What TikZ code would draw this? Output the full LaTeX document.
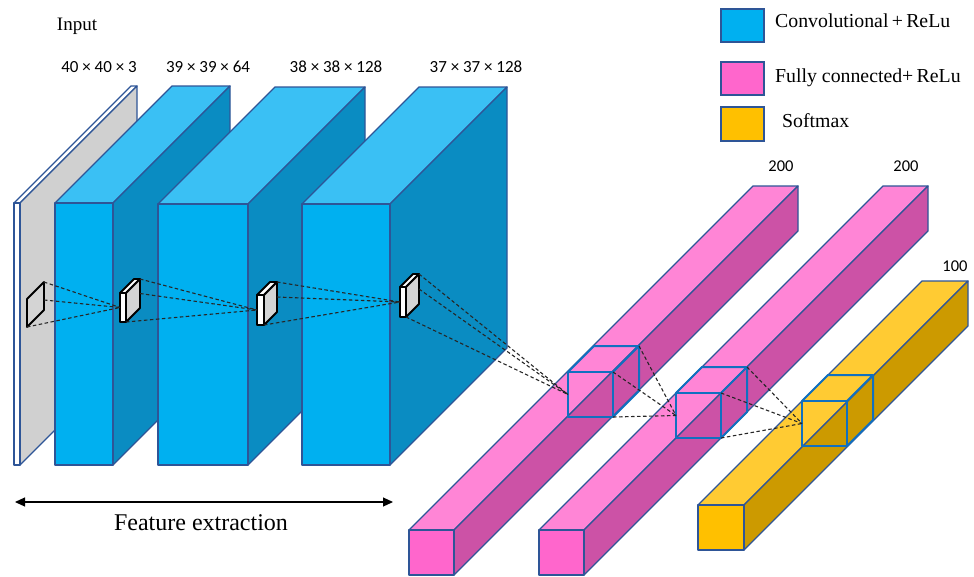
\documentclass[tikz,border=0pt]{standalone}
\usepackage{fontspec}
\setmainfont{Liberation Serif}
\newfontfamily\dimfont{Carlito}
\usetikzlibrary{arrows.meta}

\definecolor{edgeblue}{HTML}{2E5597}
\definecolor{cubeblue}{HTML}{1070C0}
\definecolor{convfront}{HTML}{00B0F0}
\definecolor{convtop}{HTML}{3AC0F4}
\definecolor{convside}{HTML}{0A8CC2}
\definecolor{inputside}{HTML}{D0D0D0}
\definecolor{fcfront}{HTML}{FF66CC}
\definecolor{fctop}{HTML}{FF85D6}
\definecolor{fcside}{HTML}{CC52A6}
\definecolor{smfront}{HTML}{FFC000}
\definecolor{smtop}{HTML}{FFCB33}
\definecolor{smside}{HTML}{CC9A00}
\definecolor{kernelside}{HTML}{D4D4D4}

\tikzset{
  blockline/.style={draw=edgeblue, line width=1.3pt, line join=round},
  kernelline/.style={draw=black, line width=1.8pt, line join=round},
  cubeline/.style={draw=cubeblue, line width=2pt, line join=round},
  flow/.style={draw=black!85, line width=1.1pt, dash pattern=on 3.5pt off 2.5pt},
  dimlabel/.style={font=\dimfont\fontsize{17}{17}\selectfont, inner sep=0pt},
  sizelabel/.style={font=\dimfont\fontsize{16.5}{16.5}\selectfont, inner sep=0pt},
  legendtext/.style={font=\fontsize{19.8}{19.8}\selectfont, anchor=west, inner sep=0pt},
  legendbox/.style={draw=edgeblue, line width=1.5pt},
}

% cuboid: x, y (front top-left), width, height, depth, front, top, side, line style
\newcommand{\prism}[9]{%
  \filldraw[#9, fill=#7] (#1,#2) -- ++(#3,0) -- ++(#5,-#5) -- ++(-#3,0) -- cycle;
  \filldraw[#9, fill=#8] (#1+#3,#2) -- ++(0,#4) -- ++(#5,-#5) -- ++(0,-#4) -- cycle;
  \filldraw[#9, fill=#6] (#1,#2) rectangle ++(#3,#4);
}

% small filter box: name, x, y, width, height, depth
\newcommand{\kernelbox}[6]{%
  \prism{#2}{#3}{#4}{#5}{#6}{white}{white}{kernelside}{kernelline}
  \coordinate (#1-in)  at (#2, #3+#5/2);
  \coordinate (#1-btr) at (#2+#4+#6, #3-#6);
  \coordinate (#1-bmr) at (#2+#4+#6, #3-#6+#5/2);
  \coordinate (#1-fbr) at (#2+#4, #3+#5);
}

% open slice drawn inside a bar: name, x, y, size, depth
\newcommand{\slicebox}[5]{%
  \draw[cubeline] (#2,#3) rectangle ++(#4,#4);
  \draw[cubeline] (#2,#3) -- ++(#5,-#5) -- ++(#4,0) -- ++(-#5,#5);
  \draw[cubeline] (#2+#4+#5,#3-#5) -- ++(0,#4) -- ++(-#5,#5);
  \coordinate (#1-in)  at (#2, #3+#4/2);
  \coordinate (#1-btr) at (#2+#4+#5, #3-#5);
  \coordinate (#1-ftr) at (#2+#4, #3);
  \coordinate (#1-fbr) at (#2+#4, #3+#4);
}

\begin{document}
\begin{tikzpicture}[x=1pt, y=-1pt]
\useasboundingbox (0,0) rectangle (974,576);

% ---- feature extraction stack ----
\prism{14}{203}{6}{262}{117}{white}{white}{inputside}{blockline}
\prism{55}{203}{58}{262}{117}{convfront}{convtop}{convside}{blockline}
\prism{158}{204}{90}{261}{117}{convfront}{convtop}{convside}{blockline}
\prism{302}{204}{88}{261}{117}{convfront}{convtop}{convside}{blockline}

% receptive field on the input
\filldraw[kernelline, fill=kernelside] (27,299) -- (44,282) -- (44,310) -- (27,327) -- cycle;
\coordinate (k0-tr) at (44,282);
\coordinate (k0-mr) at (44,300);
\coordinate (k0-bl) at (27,327);

\kernelbox{k1}{120}{293}{6}{29}{14}
\kernelbox{k2}{257}{295}{7}{30}{13}
\kernelbox{k3}{400}{287}{6}{30}{13}

\draw[flow] (k0-tr) -- (k1-in);
\draw[flow] (k0-mr) -- (k1-in);
\draw[flow] (k0-bl) -- (k1-in);
\draw[flow] (k1-btr) -- (k2-in);
\draw[flow] (k1-bmr) -- (k2-in);
\draw[flow] (k1-fbr) -- (k2-in);
\draw[flow] (k2-btr) -- (k3-in);
\draw[flow] (k2-bmr) -- (k3-in);
\draw[flow] (k2-fbr) -- (k3-in);

% ---- dense layers ----
\prism{409}{530}{45}{45}{344}{fcfront}{fctop}{fcside}{blockline}
\prism{539}{530}{45}{45}{344}{fcfront}{fctop}{fcside}{blockline}
\prism{698}{505}{46}{45}{224}{smfront}{smtop}{smside}{blockline}

\slicebox{c1}{568}{372}{45}{26}
\slicebox{c2}{676}{393}{45}{26}
\slicebox{c3}{802}{401}{45}{26}

\draw[flow] (k3-btr) -- (c1-in);
\draw[flow] (k3-bmr) -- (c1-in);
\draw[flow] (k3-fbr) -- (c1-in);
\draw[flow] (c1-btr) -- (c2-in);
\draw[flow] (c1-ftr) -- (c2-in);
\draw[flow] (c1-fbr) -- (c2-in);
\draw[flow] (c2-btr) -- (c3-in);
\draw[flow] (c2-ftr) -- (c3-in);
\draw[flow] (c2-fbr) -- (c3-in);

% ---- labels ----
\node[font=\fontsize{19}{19}\selectfont, inner sep=0pt] (lblinput) at (77,26) {Input};
\node[dimlabel] (dim0) at (99,67) {40 × 40 × 3};
\node[dimlabel] (dim1) at (208,67) {39 × 39 × 64};
\node[dimlabel] (dim2) at (336,67) {38 × 38 × 128};
\node[dimlabel] (dim3) at (476,67) {37 × 37 × 128};
\node[sizelabel] (n1) at (781,166) {200};
\node[sizelabel] (n2) at (906,166) {200};
\node[sizelabel] (n3) at (955,266) {100};

% ---- span of the convolutional part ----
\coordinate (fe-l) at (15,502);
\coordinate (fe-r) at (393,502);
\draw[line width=1.1pt, {Triangle[length=10pt,width=9pt]}-{Triangle[length=10pt,width=9pt]}] (fe-l) -- (fe-r);
\node[font=\fontsize{24}{24}\selectfont, inner sep=0pt] (lblfe) at (201,523) {Feature extraction};

% ---- legend ----
\filldraw[legendbox, fill=convfront] (721,9) rectangle (764,42);
\filldraw[legendbox, fill=fcfront] (721,62) rectangle (764,95);
\filldraw[legendbox, fill=smfront] (721,107) rectangle (764,141);
\node[legendtext] (leg1) at (775,21) {Convolutional\,+\,ReLu};
\node[legendtext] (leg2) at (775,78) {Fully connected+\,ReLu};
\node[legendtext] (leg3) at (782,121) {Softmax};
\end{tikzpicture}
\end{document}
